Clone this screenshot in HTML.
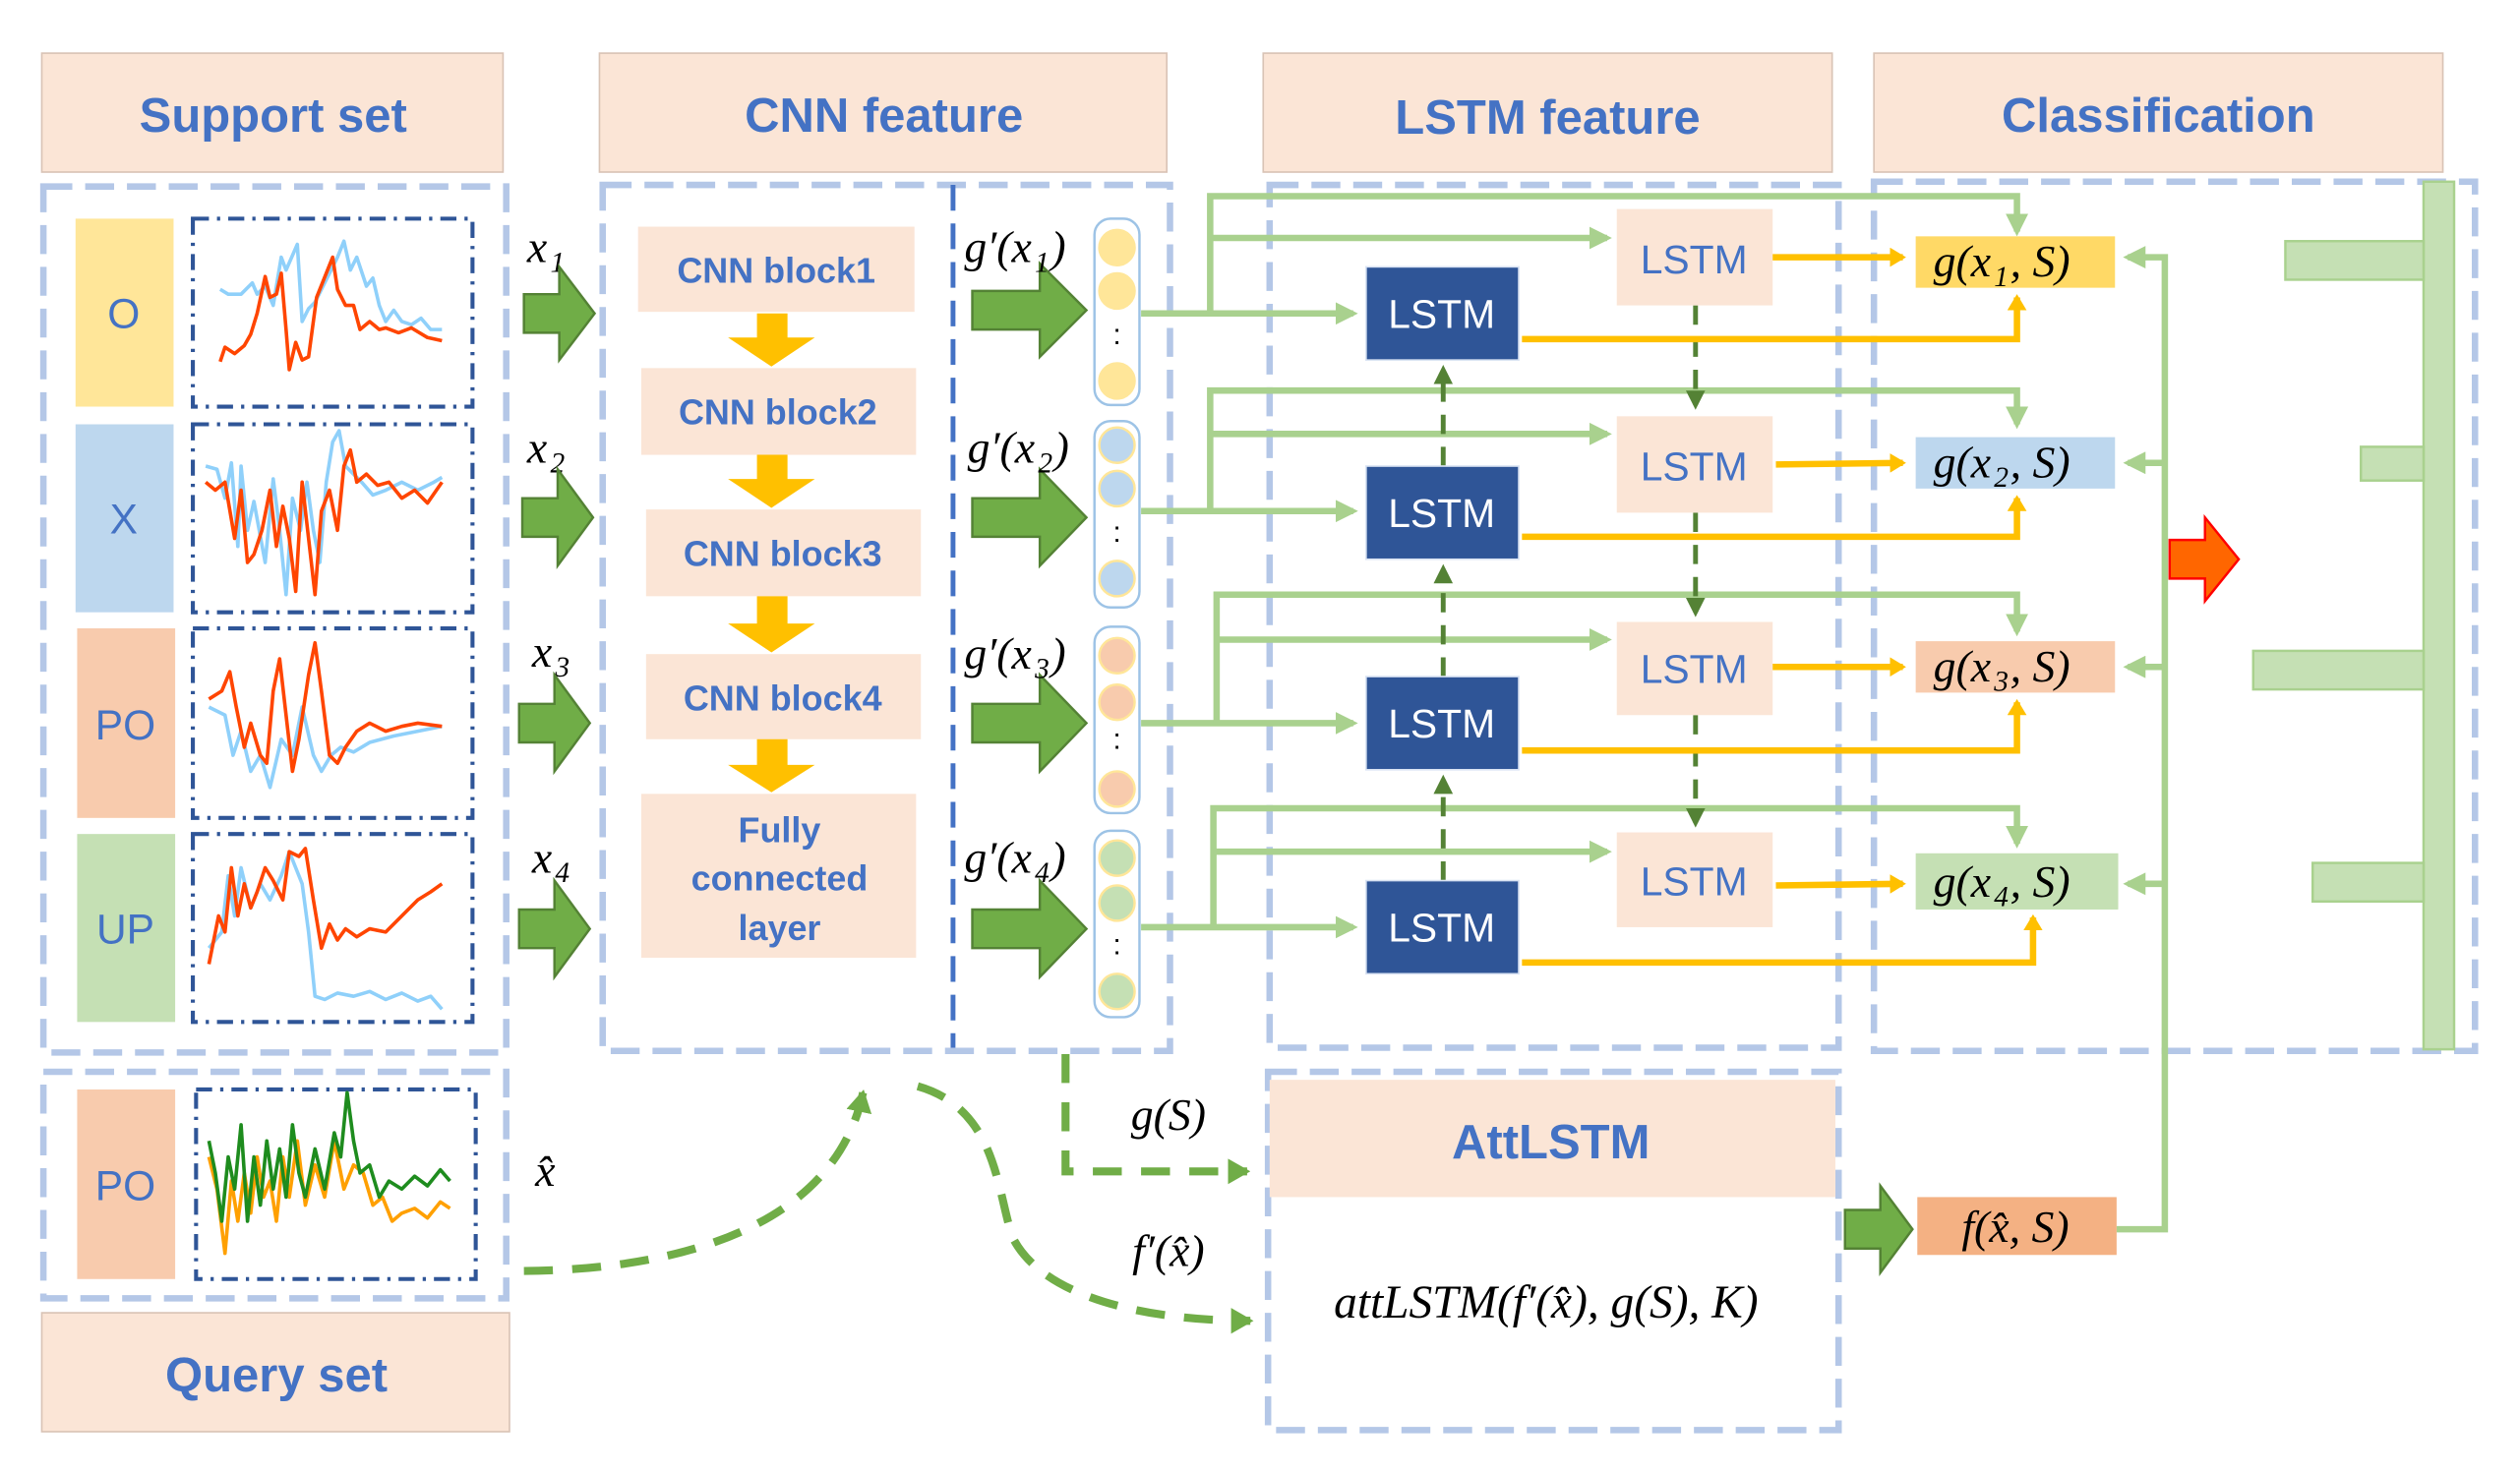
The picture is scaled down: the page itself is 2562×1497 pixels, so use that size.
<!DOCTYPE html>
<html><head><meta charset="utf-8"><style>
html,body{margin:0;padding:0;background:#fff;}
svg{display:block;}
.h{font-family:"Liberation Sans",sans-serif;font-weight:bold;fill:#4472C4;font-size:30px;text-anchor:middle;}
.cb{font-family:"Liberation Sans",sans-serif;font-weight:bold;fill:#4472C4;font-size:22px;text-anchor:middle;}
.lb{font-family:"Liberation Sans",sans-serif;fill:#4472C4;font-size:25px;text-anchor:middle;}
.lw{font-family:"Liberation Sans",sans-serif;fill:#fff;font-size:25px;text-anchor:middle;}
.m{font-family:"Liberation Serif",serif;font-style:italic;fill:#000;font-size:28px;}
.mc{font-family:"Liberation Serif",serif;font-style:italic;fill:#000;font-size:28px;text-anchor:middle;}
.sub{font-size:18px;}
</style></head><body>
<svg width="2562" height="1497" viewBox="0 0 1568 916" xmlns="http://www.w3.org/2000/svg">
<defs>
<marker id="ay" markerWidth="10" markerHeight="12" refX="8" refY="6" orient="auto" markerUnits="userSpaceOnUse"><path d="M0,0 L10,6 L0,12 Z" fill="#FFC000"/></marker>
<marker id="ad" markerWidth="12" markerHeight="12" refX="9" refY="6" orient="auto" markerUnits="userSpaceOnUse"><path d="M0,0 L12,6 L0,12 Z" fill="#548235"/></marker>
<marker id="al" markerWidth="14" markerHeight="16" refX="12" refY="8" orient="auto" markerUnits="userSpaceOnUse"><path d="M0,0 L14,8 L0,16 Z" fill="#70AD47"/></marker>
<marker id="gg" markerWidth="14" markerHeight="14" refX="11" refY="7" orient="auto" markerUnits="userSpaceOnUse"><path d="M0,0 L14,7 L0,14 Z" fill="#A9D18E"/></marker>
</defs>

<g fill="#FBE5D6" stroke="#d9c3b5" stroke-width="1">
<rect x="26" y="33" width="287" height="74"/>
<rect x="373" y="33" width="353" height="74"/>
<rect x="786" y="33" width="354" height="74"/>
<rect x="1166" y="33" width="354" height="74"/>
<rect x="26" y="817" width="291" height="74"/>
</g>
<text class="h" x="170" y="82">Support set</text>
<text class="h" x="550" y="82">CNN feature</text>
<text class="h" x="963" y="83">LSTM feature</text>
<text class="h" x="1343" y="82">Classification</text>
<text class="h" x="172" y="866">Query set</text>

<g fill="none" stroke="#B4C7E7" stroke-width="4" stroke-dasharray="18,8">
<rect x="27" y="116" width="288" height="539"/>
<rect x="375" y="115" width="353" height="539"/>
<rect x="790" y="115" width="354" height="537"/>
<rect x="1166" y="113" width="374" height="541"/>
<rect x="27" y="667" width="288" height="141"/>
<rect x="789" y="667" width="355" height="223"/>
</g>
<line x1="593" y1="115" x2="593" y2="652" stroke="#4472C4" stroke-width="3" stroke-dasharray="16,8"/>

<rect x="47" y="136" width="61" height="117" fill="#FFE699"/>
<rect x="47" y="264" width="61" height="117" fill="#BDD7EE"/>
<rect x="48" y="391" width="61" height="118" fill="#F8CBAD"/>
<rect x="48" y="519" width="61" height="117" fill="#C5E0B4"/>
<rect x="48" y="678" width="61" height="118" fill="#F8CBAD"/>
<g class="lb" style="font-size:26px">
<text x="77" y="204">O</text><text x="77" y="332">X</text><text x="78" y="460">PO</text><text x="78" y="587">UP</text><text x="78" y="747">PO</text>
</g>
<g fill="none" stroke="#2F5597" stroke-width="2.5" stroke-dasharray="10,5,2,5">
<rect x="120" y="136" width="174" height="117"/>
<rect x="120" y="264" width="174" height="117"/>
<rect x="120" y="391" width="174" height="118"/>
<rect x="120" y="519" width="174" height="117"/>
<rect x="122" y="678" width="174" height="118"/>
</g>
<g fill="none" stroke-width="2.2" stroke-linejoin="round">
<polyline stroke="#8FD0FA" points="137,180 142,183 150,183 157,176 160,183 165,178 170,190 175,160 178,168 185,152 188,200 192,192 196,188 200,180 205,170 210,160 214,150 218,168 222,160 228,178 232,173 236,190 240,200 245,193 250,200 256,202 262,198 268,205 275,205"/>
<polyline stroke="#FF4500" points="137,225 140,216 146,220 152,215 156,208 160,195 165,172 168,185 172,183 175,170 178,205 180,230 184,213 188,224 192,222 197,185 203,170 207,160 210,180 215,190 220,190 224,205 230,200 236,205 240,204 248,207 256,204 266,210 275,212"/>
<polyline stroke="#8FD0FA" points="128,290 135,292 140,310 144,288 148,340 150,290 154,330 158,312 165,350 170,298 174,330 178,370 182,310 187,330 191,300 195,330 199,350 203,300 207,275 211,268 215,290 220,295 225,300 232,308 240,305 250,300 260,305 270,300 275,297"/>
<polyline stroke="#FF4500" points="128,300 134,305 140,300 146,335 150,305 154,350 158,345 163,330 168,305 172,340 176,315 180,335 184,368 188,300 192,335 196,370 200,318 205,305 210,330 214,290 218,280 222,300 228,295 235,302 242,300 250,310 258,305 266,313 275,300"/>
<polyline stroke="#8FD0FA" points="130,440 140,445 145,470 150,455 156,480 162,470 168,490 175,460 182,470 188,440 195,470 200,480 206,470 212,465 220,468 230,462 245,458 260,455 275,452"/>
<polyline stroke="#FF4500" points="130,435 138,430 143,418 147,440 152,465 156,450 162,470 166,475 170,430 174,410 178,445 182,480 186,460 192,420 196,400 200,430 205,470 210,475 215,465 222,455 230,450 240,455 250,452 260,450 275,452"/>
<polyline stroke="#8FD0FA" points="130,590 138,580 142,545 146,570 150,540 156,565 162,550 168,560 175,545 180,530 184,540 188,550 192,580 196,620 202,622 210,618 220,620 230,617 240,622 250,618 260,623 268,620 275,628"/>
<polyline stroke="#FF4500" points="130,600 136,570 140,580 144,540 148,570 152,550 156,565 160,555 165,540 170,548 176,560 180,530 186,533 190,528 195,560 200,590 205,575 210,585 215,578 222,583 230,578 240,580 250,570 260,560 268,555 275,550"/>
<polyline stroke="#FFA000" points="130,720 135,740 140,780 144,735 148,760 152,730 156,755 160,720 164,745 168,735 172,760 176,720 180,745 185,710 190,750 196,725 202,745 208,710 214,740 220,725 226,730 232,750 238,745 244,760 250,755 258,752 266,758 274,748 280,752"/>
<polyline stroke="#1E8C1E" points="130,710 134,730 138,760 142,720 146,740 150,700 154,760 158,720 162,750 166,710 170,740 174,715 178,745 182,700 186,730 190,745 196,715 202,740 208,705 212,720 216,680 220,710 224,730 230,725 236,745 242,735 250,740 258,732 266,738 274,728 280,735"/>
</g>

<text class="m" x="328" y="163">x<tspan class="sub" dx="2" dy="6">1</tspan></text>
<text class="m" x="328" y="288">x<tspan class="sub" dx="2" dy="6">2</tspan></text>
<text class="m" x="331" y="415">x<tspan class="sub" dx="2" dy="6">3</tspan></text>
<text class="m" x="331" y="543">x<tspan class="sub" dx="2" dy="6">4</tspan></text>
<text class="m" x="333" y="738">x̂</text>

<g fill="#70AD47" stroke="#548235" stroke-width="1.5">
<path d="M326,183 L348,183 L348,166 L370,195 L348,224 L348,207 L326,207 Z"/>
<path d="M325,310 L347,310 L347,292 L369,322 L347,352 L347,334 L325,334 Z"/>
<path d="M323,438 L345,438 L345,420 L367,450 L345,480 L345,462 L323,462 Z"/>
<path d="M323,566 L345,566 L345,548 L367,578 L345,608 L345,590 L323,590 Z"/>
<path d="M605,181 L647,181 L647,164 L676,193 L647,222 L647,205 L605,205 Z"/>
<path d="M605,310 L647,310 L647,292 L676,322 L647,352 L647,334 L605,334 Z"/>
<path d="M605,438 L647,438 L647,420 L676,450 L647,480 L647,462 L605,462 Z"/>
<path d="M605,566 L647,566 L647,548 L676,578 L647,608 L647,590 L605,590 Z"/>
<path d="M1148,753 L1170,753 L1170,738 L1190,765 L1170,792 L1170,777 L1148,777 Z"/>
</g>

<g fill="#FBE5D6">
<rect x="397" y="141" width="172" height="53"/>
<rect x="399" y="229" width="171" height="54"/>
<rect x="402" y="317" width="171" height="54"/>
<rect x="402" y="407" width="171" height="53"/>
<rect x="399" y="494" width="171" height="102"/>
</g>
<text class="cb" x="483" y="176">CNN block1</text>
<text class="cb" x="484" y="264">CNN block2</text>
<text class="cb" x="487" y="352">CNN block3</text>
<text class="cb" x="487" y="442">CNN block4</text>
<text class="cb" x="485" y="524">Fully</text>
<text class="cb" x="485" y="554">connected</text>
<text class="cb" x="485" y="585">layer</text>
<g fill="#FFC000">
<path d="M471,195 L490,195 L490,210 L507,210 L480,228 L453,210 L471,210 Z"/>
<path d="M471,283 L490,283 L490,298 L507,298 L480,316 L453,298 L471,298 Z"/>
<path d="M471,371 L490,371 L490,388 L507,388 L480,406 L453,388 L471,388 Z"/>
<path d="M471,460 L490,460 L490,476 L507,476 L480,493 L453,476 L471,476 Z"/>
</g>

<text class="m" x="600" y="163">g′(x<tspan class="sub" dx="2" dy="6">1</tspan><tspan dx="1" dy="-6">)</tspan></text>
<text class="m" x="602" y="288">g′(x<tspan class="sub" dx="2" dy="6">2</tspan><tspan dx="1" dy="-6">)</tspan></text>
<text class="m" x="600" y="416">g′(x<tspan class="sub" dx="2" dy="6">3</tspan><tspan dx="1" dy="-6">)</tspan></text>
<text class="m" x="600" y="543">g′(x<tspan class="sub" dx="2" dy="6">4</tspan><tspan dx="1" dy="-6">)</tspan></text>

<g fill="#fff" stroke="#9DC3E6" stroke-width="1.5">
<rect x="681" y="136" width="28" height="116" rx="10"/>
<rect x="681" y="262" width="28" height="116" rx="10"/>
<rect x="681" y="390" width="28" height="116" rx="10"/>
<rect x="681" y="517" width="28" height="116" rx="10"/>
</g>
<g stroke="#FFE699" stroke-width="1.5">
<circle cx="695" cy="154" r="11" fill="#FFE699"/><circle cx="695" cy="181" r="11" fill="#FFE699"/><circle cx="695" cy="237" r="11" fill="#FFE699"/>
<circle cx="695" cy="277" r="11" fill="#BDD7EE"/><circle cx="695" cy="304" r="11" fill="#BDD7EE"/><circle cx="695" cy="360" r="11" fill="#BDD7EE"/>
<circle cx="695" cy="408" r="11" fill="#F8CBAD"/><circle cx="695" cy="437" r="11" fill="#F8CBAD"/><circle cx="695" cy="491" r="11" fill="#F8CBAD"/>
<circle cx="695" cy="534" r="11" fill="#C5E0B4"/><circle cx="695" cy="562" r="11" fill="#C5E0B4"/><circle cx="695" cy="617" r="11" fill="#C5E0B4"/>
</g>
<g font-family="Liberation Sans" font-size="18" text-anchor="middle"><text x="695" y="214">:</text><text x="695" y="337">:</text><text x="695" y="466">:</text><text x="695" y="594">:</text></g>

<g fill="none" stroke="#A9D18E" stroke-width="4">
<path d="M710,195 L842,195" marker-end="url(#gg)"/>
<path d="M753,195 L753,122 L1255,122 L1255,144" marker-end="url(#gg)"/>
<path d="M753,148 L1000,148" marker-end="url(#gg)"/>
<path d="M710,318 L842,318" marker-end="url(#gg)"/>
<path d="M753,318 L753,243 L1255,243 L1255,264" marker-end="url(#gg)"/>
<path d="M753,270 L1000,270" marker-end="url(#gg)"/>
<path d="M710,450 L842,450" marker-end="url(#gg)"/>
<path d="M757,450 L757,370 L1255,370 L1255,393" marker-end="url(#gg)"/>
<path d="M757,398 L1000,398" marker-end="url(#gg)"/>
<path d="M710,577 L842,577" marker-end="url(#gg)"/>
<path d="M755,577 L755,503 L1255,503 L1255,525" marker-end="url(#gg)"/>
<path d="M755,530 L1000,530" marker-end="url(#gg)"/>
<path d="M1317,765 L1347,765 L1347,160 L1324,160" marker-end="url(#gg)"/>
<path d="M1347,288 L1324,288" marker-end="url(#gg)"/>
<path d="M1347,415 L1324,415" marker-end="url(#gg)"/>
<path d="M1347,550 L1324,550" marker-end="url(#gg)"/>
</g>

<g stroke="#548235" stroke-width="3" stroke-dasharray="12,8" fill="none">
<path d="M1055,190 L1055,252" marker-end="url(#ad)"/>
<path d="M1055,319 L1055,381" marker-end="url(#ad)"/>
<path d="M1055,445 L1055,512" marker-end="url(#ad)"/>
<path d="M898,290 L898,230" marker-end="url(#ad)"/>
<path d="M898,421 L898,354" marker-end="url(#ad)"/>
<path d="M898,548 L898,485" marker-end="url(#ad)"/>
</g>

<g fill="#2F5597" stroke="#DAE3F3" stroke-width="1">
<rect x="850" y="166" width="95" height="58"/>
<rect x="850" y="290" width="95" height="58"/>
<rect x="850" y="421" width="95" height="58"/>
<rect x="850" y="548" width="95" height="58"/>
</g>
<text class="lw" x="897" y="204">LSTM</text>
<text class="lw" x="897" y="328">LSTM</text>
<text class="lw" x="897" y="459">LSTM</text>
<text class="lw" x="897" y="586">LSTM</text>
<g fill="#FBE5D6">
<rect x="1006" y="130" width="97" height="60"/>
<rect x="1006" y="259" width="97" height="60"/>
<rect x="1006" y="387" width="97" height="58"/>
<rect x="1006" y="518" width="97" height="59"/>
</g>
<text class="lb" x="1054" y="170">LSTM</text>
<text class="lb" x="1054" y="299">LSTM</text>
<text class="lb" x="1054" y="425">LSTM</text>
<text class="lb" x="1054" y="557">LSTM</text>

<g fill="none" stroke="#FFC000" stroke-width="4">
<path d="M1103,160 L1184,160" marker-end="url(#ay)"/>
<path d="M947,211 L1255,211 L1255,185" marker-end="url(#ay)"/>
<path d="M1105,289 L1184,288" marker-end="url(#ay)"/>
<path d="M947,334 L1255,334 L1255,310" marker-end="url(#ay)"/>
<path d="M1103,415 L1184,415" marker-end="url(#ay)"/>
<path d="M947,467 L1255,467 L1255,437" marker-end="url(#ay)"/>
<path d="M1105,551 L1184,550" marker-end="url(#ay)"/>
<path d="M947,599 L1265,599 L1265,571" marker-end="url(#ay)"/>
</g>

<rect x="1192" y="147" width="124" height="32" fill="#FFD966"/>
<rect x="1192" y="272" width="124" height="32" fill="#BDD7EE"/>
<rect x="1192" y="399" width="124" height="32" fill="#F8CBAD"/>
<rect x="1192" y="531" width="126" height="35" fill="#C5E0B4"/>
<rect x="1193" y="745" width="124" height="36" fill="#F4B183"/>
<text class="m" x="1203" y="172">g(x<tspan class="sub" dx="2" dy="6">1</tspan><tspan dx="1" dy="-6">, S)</tspan></text>
<text class="m" x="1203" y="297">g(x<tspan class="sub" dx="2" dy="6">2</tspan><tspan dx="1" dy="-6">, S)</tspan></text>
<text class="m" x="1203" y="424">g(x<tspan class="sub" dx="2" dy="6">3</tspan><tspan dx="1" dy="-6">, S)</tspan></text>
<text class="m" x="1203" y="558">g(x<tspan class="sub" dx="2" dy="6">4</tspan><tspan dx="1" dy="-6">, S)</tspan></text>
<text class="mc" x="1254" y="773">f(x̂, S)</text>

<path d="M1350,336 L1372,336 L1372,322 L1393,348 L1372,374 L1372,360 L1350,360 Z" fill="#FF6600" stroke="#FF0000" stroke-width="1.5"/>

<g fill="#C5E0B4" stroke="#A9D18E" stroke-width="1.5">
<rect x="1508" y="113" width="19" height="540"/>
<rect x="1422" y="150" width="86" height="24"/>
<rect x="1469" y="278" width="39" height="21"/>
<rect x="1402" y="405" width="106" height="24"/>
<rect x="1439" y="537" width="69" height="24"/>
</g>

<g fill="none" stroke="#70AD47" stroke-width="5" stroke-dasharray="18,12">
<path d="M663,656 L663,729 L776,729" marker-end="url(#al)"/>
<path d="M326,791 C430,790 520,760 537,680" marker-end="url(#al)"/>
<path d="M571,676 C620,690 620,740 630,770 C650,810 720,822 778,822" marker-end="url(#al)"/>
</g>
<text class="mc" x="727" y="703">g(S)</text>
<text class="mc" x="727" y="788">f′(x̂)</text>

<rect x="790" y="672" width="352" height="73" fill="#FBE5D6"/>
<text class="h" x="965" y="721">AttLSTM</text>
<text class="mc" x="962" y="820" style="font-size:29px">attLSTM(f′(x̂), g(S), K)</text>
</svg>
</body></html>
